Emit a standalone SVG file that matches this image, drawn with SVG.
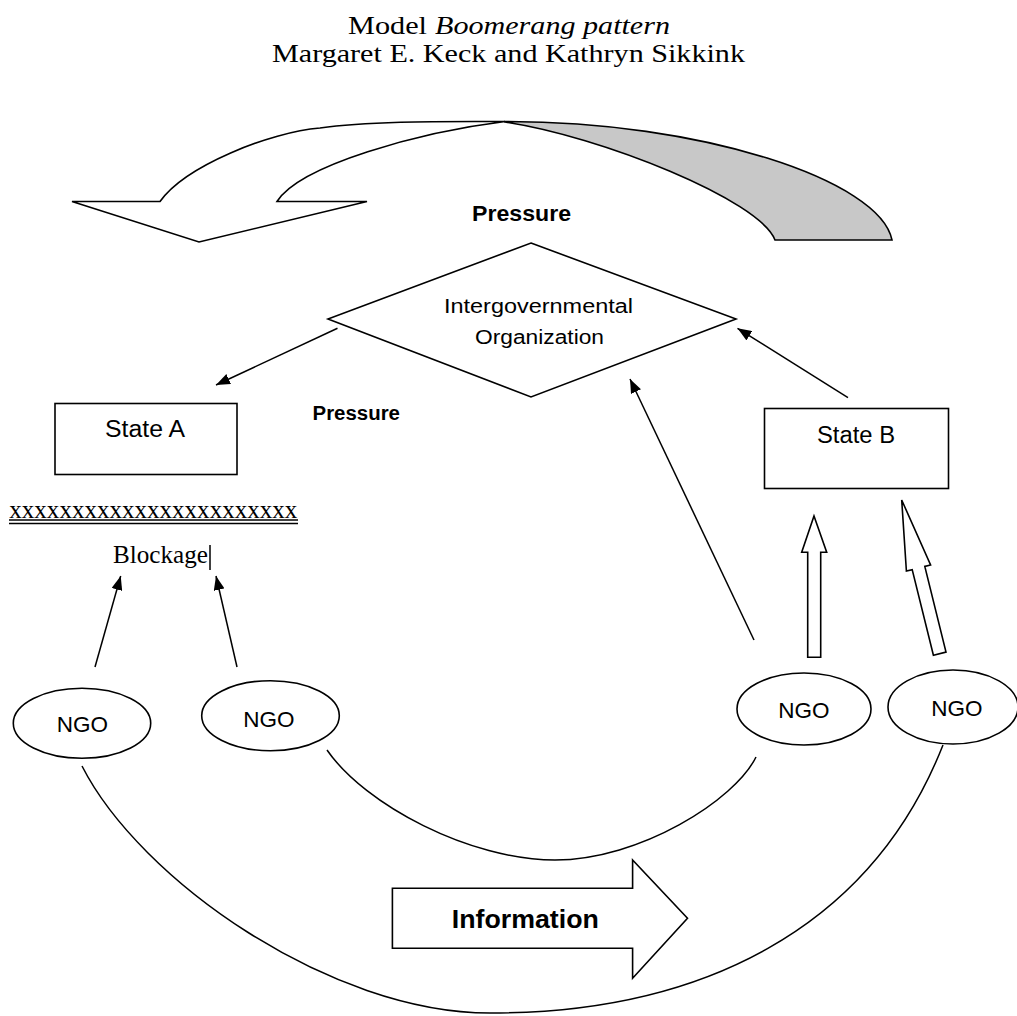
<svg xmlns="http://www.w3.org/2000/svg" width="1017" height="1016" viewBox="0 0 1017 1016">
<style>
.ln{fill:none;stroke:#000;stroke-width:1.5}
.shape{fill:#fff;stroke:#000;stroke-width:1.6}
.sans{font-family:"Liberation Sans",Arial,sans-serif;fill:#000}
.serif{font-family:"Liberation Serif","Times New Roman",serif;fill:#000}
</style>
<defs>
<marker id="ah" markerUnits="userSpaceOnUse" markerWidth="14" markerHeight="11" refX="14" refY="5.5" orient="auto">
<path d="M0,0 L14,5.5 L0,11 Z" fill="#000"/>
</marker>
</defs>
<rect width="1017" height="1016" fill="#fff"/>
<g id="title">
<text class="serif" x="348" y="33.5" font-size="26" textLength="79" lengthAdjust="spacingAndGlyphs">Model</text>
<text class="serif" x="435" y="33.5" font-size="26" font-style="italic" textLength="235" lengthAdjust="spacingAndGlyphs">Boomerang pattern</text>
<text class="serif" x="272" y="62" font-size="26" textLength="473" lengthAdjust="spacingAndGlyphs">Margaret E. Keck and Kathryn Sikkink</text>
</g>
<g id="boomerang">
<path class="shape" d="M72,201.5 L160,201.5 C185,166 270,132 320,128 C370,120.5 450,121.5 505,121.5 C420,132 300,165 277,201.5 L367,201.5 L199,242 Z"/>
<path d="M505,121.5 C700,121 880,180 892,240 L775,240 C760,200 600,136 505,122 Z" fill="#c8c8c8" stroke="#000" stroke-width="1.6"/>
</g>
<g id="pressure-top">
<text class="sans" x="472" y="221" font-size="22" font-weight="bold" textLength="99" lengthAdjust="spacingAndGlyphs">Pressure</text>
</g>
<g id="igo">
<polygon class="shape" points="531,243 736,319 531,397 328,319"/>
<text class="sans" x="444" y="313" font-size="20" textLength="189" lengthAdjust="spacingAndGlyphs">Intergovernmental</text>
<text class="sans" x="475" y="343.5" font-size="20" textLength="129" lengthAdjust="spacingAndGlyphs">Organization</text>
</g>
<g id="pressure-low">
<text class="sans" x="312.5" y="419.5" font-size="20" font-weight="bold" textLength="87.5" lengthAdjust="spacingAndGlyphs">Pressure</text>
</g>
<g id="stateA">
<rect class="shape" x="55" y="403.5" width="182" height="71"/>
<text class="sans" x="105" y="436.7" font-size="23" textLength="80" lengthAdjust="spacingAndGlyphs">State A</text>
</g>
<g id="stateB">
<rect class="shape" x="764.5" y="408.5" width="184" height="80"/>
<text class="sans" x="817" y="442.7" font-size="23" textLength="78" lengthAdjust="spacingAndGlyphs">State B</text>
</g>
<g id="blockage">
<text class="serif" x="9.3" y="518" font-size="25" textLength="288" lengthAdjust="spacingAndGlyphs">xxxxxxxxxxxxxxxxxxxxxxx</text>
<line class="ln" x1="9" y1="520" x2="298" y2="520" stroke-width="1.3"/>
<line class="ln" x1="9" y1="523.5" x2="298" y2="523.5" stroke-width="1.3"/>
<text class="serif" x="113" y="563.3" font-size="25" textLength="95" lengthAdjust="spacingAndGlyphs">Blockage</text>
<line class="ln" x1="210" y1="545" x2="210" y2="570" stroke-width="1.5"/>
</g>
<g id="ngo1">
<ellipse class="shape" cx="82" cy="723.3" rx="68.7" ry="35"/>
<text class="sans" x="82.5" y="731.7" font-size="22.5" text-anchor="middle">NGO</text>
</g>
<g id="ngo2">
<ellipse class="shape" cx="270.5" cy="715.7" rx="68.8" ry="35"/>
<text class="sans" x="269" y="726.7" font-size="22.5" text-anchor="middle">NGO</text>
</g>
<g id="ngo3">
<ellipse class="shape" cx="804" cy="709" rx="67" ry="36"/>
<text class="sans" x="804" y="718" font-size="22.5" text-anchor="middle">NGO</text>
</g>
<g id="ngo4">
<ellipse class="shape" cx="953" cy="707" rx="65" ry="37"/>
<text class="sans" x="957" y="716" font-size="22.5" text-anchor="middle">NGO</text>
</g>
<g id="connectors">
<line class="ln" x1="337.5" y1="328.3" x2="216" y2="385" marker-end="url(#ah)"/>
<line class="ln" x1="95" y1="667" x2="120.7" y2="576" marker-end="url(#ah)"/>
<line class="ln" x1="237" y1="667" x2="216" y2="576" marker-end="url(#ah)"/>
<line class="ln" x1="754" y1="640" x2="630" y2="379" marker-end="url(#ah)"/>
<line class="ln" x1="848" y1="397.7" x2="737.5" y2="328.3" marker-end="url(#ah)"/>
<path class="ln" d="M327,750 C365,805 470,860 555,860 C640,860 735,800 756,757"/>
<path class="ln" d="M82,766 C140,880 330,1013 490,1013 C700,1013 870,930 943,745"/>
<polygon class="shape" points="814,516 826.7,552.3 820.7,552.3 820.7,657.3 807.7,657.3 807.7,552.3 801.7,552.3"/>
<polygon class="shape" points="901.7,500 930.6,565 924.8,566.4 946,652.1 933.4,655.3 912.2,569.6 906.4,571"/>
</g>
<g id="information">
<polygon class="shape" points="392.4,888.3 632.6,888.3 632.6,860 687.5,918.3 632.6,978.3 632.6,948.3 392.4,948.3"/>
<text class="sans" x="451.8" y="928.3" font-size="26.5" font-weight="bold" textLength="147" lengthAdjust="spacingAndGlyphs">Information</text>
</g>
</svg>
